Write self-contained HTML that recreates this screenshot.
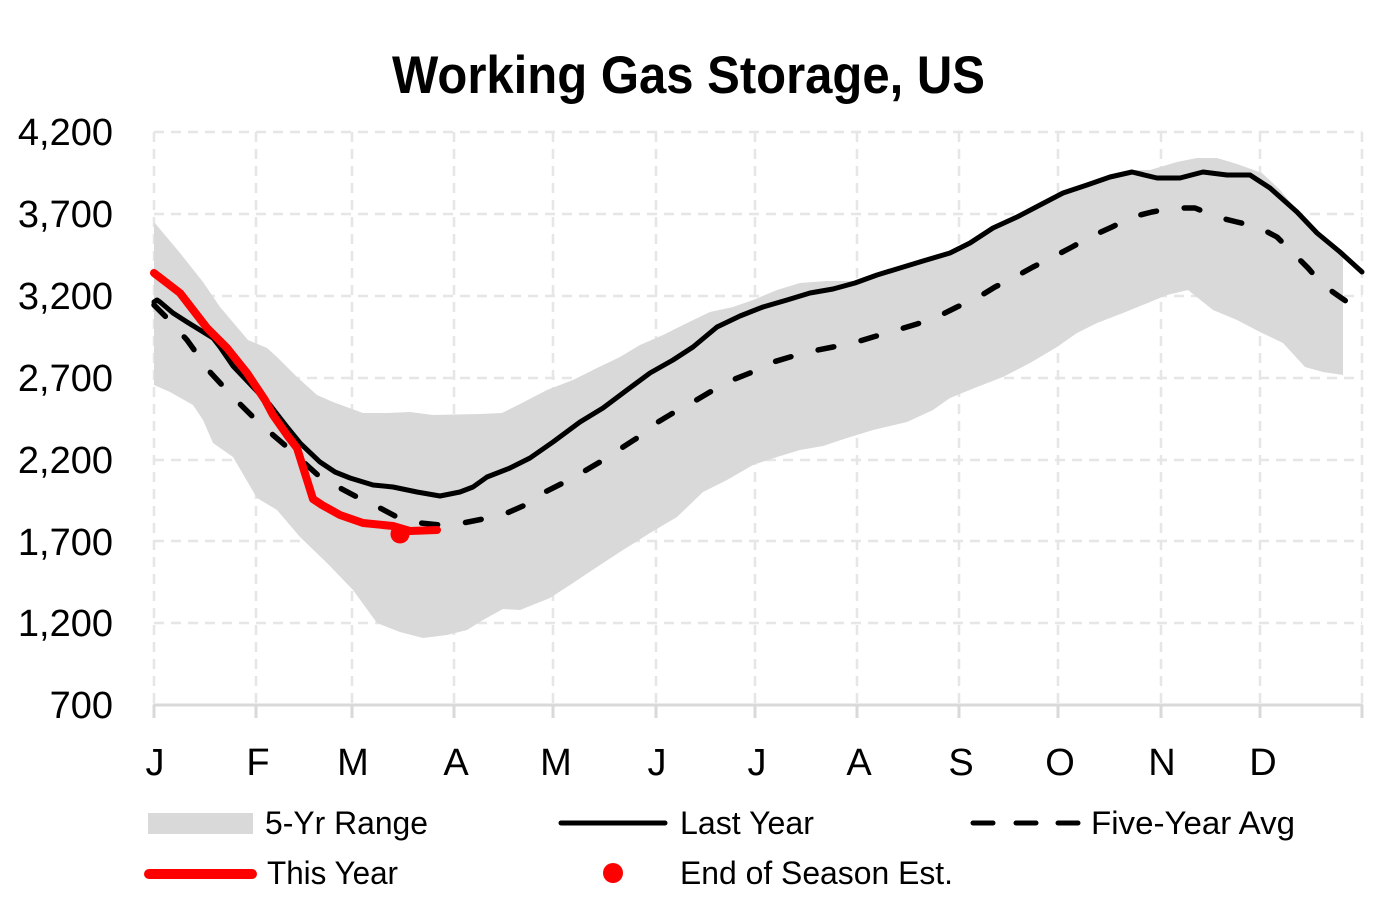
<!DOCTYPE html>
<html>
<head>
<meta charset="utf-8">
<style>
  html, body { margin: 0; padding: 0; background: #ffffff; }
  svg { display: block; }
  text { font-family: "Liberation Sans", sans-serif; fill: #000; }
</style>
</head>
<body>
<svg width="1377" height="900" viewBox="0 0 1377 900" xmlns="http://www.w3.org/2000/svg">
  <rect x="0" y="0" width="1377" height="900" fill="#ffffff"/>

  <!-- Title -->
  <text x="392" y="93" font-size="53" font-weight="bold" textLength="593" lengthAdjust="spacingAndGlyphs">Working Gas Storage, US</text>

  <!-- Gridlines -->
  <g stroke="#e6e6e6" stroke-width="2.5" stroke-dasharray="10 7" fill="none">
    <line x1="154" y1="132" x2="1362" y2="132"/>
    <line x1="154" y1="214" x2="1362" y2="214"/>
    <line x1="154" y1="296" x2="1362" y2="296"/>
    <line x1="154" y1="378" x2="1362" y2="378"/>
    <line x1="154" y1="460" x2="1362" y2="460"/>
    <line x1="154" y1="541" x2="1362" y2="541"/>
    <line x1="154" y1="623" x2="1362" y2="623"/>
    <line x1="154" y1="132" x2="154" y2="705"/>
    <line x1="256" y1="132" x2="256" y2="705"/>
    <line x1="352" y1="132" x2="352" y2="705"/>
    <line x1="454" y1="132" x2="454" y2="705"/>
    <line x1="553" y1="132" x2="553" y2="705"/>
    <line x1="656" y1="132" x2="656" y2="705"/>
    <line x1="755" y1="132" x2="755" y2="705"/>
    <line x1="857" y1="132" x2="857" y2="705"/>
    <line x1="959" y1="132" x2="959" y2="705"/>
    <line x1="1058" y1="132" x2="1058" y2="705"/>
    <line x1="1161" y1="132" x2="1161" y2="705"/>
    <line x1="1260" y1="132" x2="1260" y2="705"/>
    <line x1="1362" y1="132" x2="1362" y2="705"/>
  </g>

  <!-- 5-Yr Range band -->
  <polygon fill="#d9d9d9" points="
    154,222 180,253 203,282 220,307 248,340 267,348 277,357 297,377 317,395 333,402 363,413 387,413 410,412 433,415 480,414 502,413 520,404 547,390 573,380 597,368 620,357 640,345 663,335 687,323 710,312 733,307 753,300 777,290 800,283 827,281 853,281 877,273 900,266 923,259 950,251 970,241 993,226 1017,215 1040,203 1063,191 1087,183 1110,175 1132,170 1150,170 1177,162 1197,158 1217,158 1237,164 1262,173 1280,190 1297,210 1317,231 1343,252
    1343,375 1323,372 1305,367 1283,343 1260,332 1237,320 1213,310 1188,290 1167,295 1150,302 1123,313 1097,323 1077,333 1057,347 1030,363 1003,377 977,387 950,398 933,410 907,422 873,430 847,438 823,446 800,450 777,457 753,465 727,480 703,492 677,517 650,533 623,550 597,567 573,583 550,598 520,610 503,609 483,620 467,630 447,635 423,638 400,632 377,623 353,590 327,563 300,537 277,510 257,498 233,457 213,443 203,420 193,405 170,392 154,385"/>

  <!-- Axis line and ticks -->
  <g stroke="#d9d9d9" stroke-width="3" fill="none">
    <line x1="153" y1="705" x2="1363" y2="705"/>
    <line x1="154" y1="705" x2="154" y2="718"/>
    <line x1="256" y1="705" x2="256" y2="718"/>
    <line x1="352" y1="705" x2="352" y2="718"/>
    <line x1="454" y1="705" x2="454" y2="718"/>
    <line x1="553" y1="705" x2="553" y2="718"/>
    <line x1="656" y1="705" x2="656" y2="718"/>
    <line x1="755" y1="705" x2="755" y2="718"/>
    <line x1="857" y1="705" x2="857" y2="718"/>
    <line x1="959" y1="705" x2="959" y2="718"/>
    <line x1="1058" y1="705" x2="1058" y2="718"/>
    <line x1="1161" y1="705" x2="1161" y2="718"/>
    <line x1="1260" y1="705" x2="1260" y2="718"/>
    <line x1="1362" y1="705" x2="1362" y2="718"/>
  </g>

  <!-- Five-Year Avg (dashed) -->
  <polyline fill="none" stroke="#000" stroke-width="5.5" stroke-linecap="round" stroke-linejoin="round" stroke-dasharray="16 28" points="
    154,305 167,318 187,340 210,372 233,397 253,417 273,435 287,447 310,468 320,477 340,488 357,497 380,508 397,517 420,523 440,525 463,523 483,519 507,513 523,506 543,493 563,483 583,472 600,462 620,449 637,438 653,425 673,413 693,402 710,392 730,381 750,373 770,363 790,357 813,351 833,347 853,343 873,337 897,330 917,324 937,317 957,307 977,298 995,287 1015,277 1033,267 1053,257 1072,247 1092,236 1112,227 1132,217 1152,212 1173,208 1195,208 1217,217 1237,222 1258,227 1277,237 1293,253 1308,268 1323,285 1340,297 1362,312"/>

  <!-- Last Year (solid black) -->
  <polyline fill="none" stroke="#000" stroke-width="5" stroke-linecap="round" stroke-linejoin="round" points="
    154,302 157,300 160,302 173,313 187,322 200,330 213,338 220,347 233,366 253,387 270,405 287,427 300,443 320,462 335,472 350,478 373,485 393,487 417,492 440,496 460,492 473,487 487,477 510,468 530,458 553,442 580,422 603,408 627,390 650,373 673,360 693,347 717,327 740,316 763,307 787,300 810,293 833,289 855,283 877,275 900,268 923,261 950,253 970,243 993,228 1017,217 1040,205 1063,193 1087,185 1110,177 1132,172 1157,178 1180,178 1203,172 1227,175 1250,175 1270,188 1297,212 1317,233 1340,252 1362,272"/>

  <!-- This Year (red) -->
  <polyline fill="none" stroke="#ff0000" stroke-width="8" stroke-linecap="round" stroke-linejoin="round" points="
    154,273 180,293 207,328 227,348 247,373 265,400 273,415 287,435 297,448 313,499 322,505 340,515 363,523 393,526 410,531 437,530"/>

  <!-- End of Season Est. dot -->
  <circle cx="400" cy="534" r="9.5" fill="#ff0000"/>

  <!-- Y-axis labels -->
  <g font-size="38" text-anchor="end">
    <text x="113" y="145">4,200</text>
    <text x="113" y="227">3,700</text>
    <text x="113" y="309">3,200</text>
    <text x="113" y="391">2,700</text>
    <text x="113" y="473">2,200</text>
    <text x="113" y="555">1,700</text>
    <text x="113" y="636">1,200</text>
    <text x="113" y="718">700</text>
  </g>

  <!-- X-axis labels -->
  <g font-size="38" text-anchor="middle">
    <text x="155" y="775">J</text>
    <text x="258" y="775">F</text>
    <text x="353" y="775">M</text>
    <text x="456" y="775">A</text>
    <text x="556" y="775">M</text>
    <text x="657" y="775">J</text>
    <text x="757" y="775">J</text>
    <text x="859" y="775">A</text>
    <text x="961" y="775">S</text>
    <text x="1060" y="775">O</text>
    <text x="1162" y="775">N</text>
    <text x="1263" y="775">D</text>
  </g>

  <!-- Legend -->
  <rect x="148" y="813" width="105" height="21" fill="#d9d9d9"/>
  <text x="265" y="834" font-size="32" textLength="163" lengthAdjust="spacingAndGlyphs">5-Yr Range</text>

  <line x1="561" y1="823" x2="665" y2="823" stroke="#000" stroke-width="5" stroke-linecap="round"/>
  <text x="680" y="834" font-size="32" textLength="134" lengthAdjust="spacingAndGlyphs">Last Year</text>

  <g stroke="#000" stroke-width="5" stroke-linecap="round">
    <line x1="973" y1="823" x2="993" y2="823"/>
    <line x1="1016" y1="823" x2="1036" y2="823"/>
    <line x1="1058" y1="823" x2="1078" y2="823"/>
  </g>
  <text x="1091" y="834" font-size="32" textLength="204" lengthAdjust="spacingAndGlyphs">Five-Year Avg</text>

  <line x1="149" y1="874" x2="252" y2="874" stroke="#ff0000" stroke-width="10" stroke-linecap="round"/>
  <text x="267" y="884" font-size="32" textLength="131" lengthAdjust="spacingAndGlyphs">This Year</text>

  <circle cx="613" cy="873" r="10" fill="#ff0000"/>
  <text x="680" y="884" font-size="32" textLength="273" lengthAdjust="spacingAndGlyphs">End of Season Est.</text>
</svg>
</body>
</html>
